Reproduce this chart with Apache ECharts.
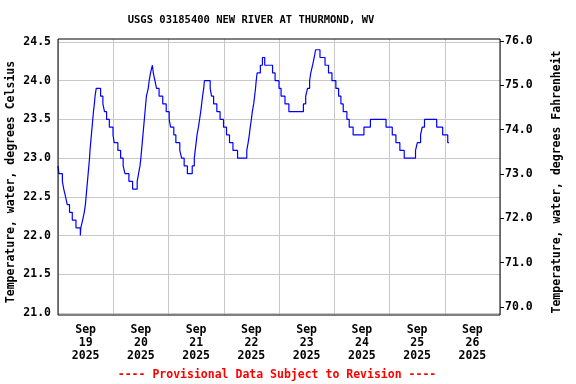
<!DOCTYPE html>
<html>
<head>
<meta charset="utf-8">
<script src="https://cdn.jsdelivr.net/npm/echarts@6/dist/echarts.min.js"></script>
<style>
html,body{margin:0;padding:0;background:#fff;}
#chart{width:576px;height:384px;}
</style>
</head>
<body>
<div id="chart"></div>
<script>
// Hours since Sep 19 2025 00:00 at which each new reading value begins
var hours = [0,0.4,1.9,2.5,3.3,4.0,5.0,6.2,7.8,9.7,9.9,10.7,11.4,11.9,12.2,12.5,12.8,13.1,13.4,13.7,13.9,14.2,14.5,14.8,15.1,15.4,15.8,16.1,16.6,18.5,19.5,20.2,21.1,22.3,23.9,24.4,26.0,27.2,28.3,29.1,30.8,32.4,34.4,35.0,35.6,36.0,36.3,36.6,36.9,37.2,37.5,37.8,38.1,38.4,39.2,39.6,40.2,41.0,41.4,42.1,42.8,43.9,45.5,47.0,48.3,48.9,50.3,51.2,52.9,53.7,54.8,56.2,58.3,59.2,59.6,60.0,60.4,61.0,61.5,62.0,62.4,62.8,63.3,63.6,66.1,66.7,67.6,69.0,70.4,71.9,73.2,74.5,76.0,78.0,82.0,82.6,83.1,83.5,84.0,84.4,85.0,85.4,85.8,86.1,86.5,87.9,88.8,89.8,93.2,94.3,96.0,96.9,98.6,100.3,106.6,107.6,108.4,109.3,109.8,110.6,111.3,111.9,113.8,116.0,117.5,119.0,120.7,121.9,122.9,123.9,125.5,126.5,128.2,132.9,135.7,142.5,145.2,146.8,148.5,150.4,155.3,156.1,157.5,158.2,159.2,164.5,167.1,169.3,169.8];
var tempC = [22.9,22.8,22.7,22.6,22.5,22.4,22.3,22.2,22.1,22.0,22.1,22.2,22.3,22.4,22.5,22.6,22.7,22.8,22.9,23.0,23.1,23.2,23.3,23.4,23.5,23.6,23.7,23.8,23.9,23.8,23.7,23.6,23.5,23.4,23.3,23.2,23.1,23.0,22.9,22.8,22.7,22.6,22.7,22.8,22.9,23.0,23.1,23.2,23.3,23.4,23.5,23.6,23.7,23.8,23.9,24.0,24.1,24.2,24.1,24.0,23.9,23.8,23.7,23.6,23.5,23.4,23.3,23.2,23.1,23.0,22.9,22.8,22.9,23.0,23.1,23.2,23.3,23.4,23.5,23.6,23.7,23.8,23.9,24.0,23.9,23.8,23.7,23.6,23.5,23.4,23.3,23.2,23.1,23.0,23.1,23.2,23.3,23.4,23.5,23.6,23.7,23.8,23.9,24.0,24.1,24.2,24.3,24.2,24.1,24.0,23.9,23.8,23.7,23.6,23.7,23.8,23.9,24.0,24.1,24.2,24.3,24.4,24.3,24.2,24.1,24.0,23.9,23.8,23.7,23.6,23.5,23.4,23.3,23.4,23.5,23.4,23.3,23.2,23.1,23.0,23.1,23.2,23.3,23.4,23.5,23.4,23.3,23.2,23.2];
var dayLabels = ['19','20','21','22','23','24','25','26'];
var monthLabel = 'Sep';
var yearLabel = '2025';
var titleText = 'USGS 03185400 NEW RIVER AT THURMOND, WV';
var leftName = 'Temperature, water, degrees Celsius';
var rightName = 'Temperature, water, degrees Fahrenheit';
var footerText = '---- Provisional Data Subject to Revision ----';

var FONT = 'DejaVu Sans Mono';
var chart = echarts.init(document.getElementById('chart'), null, {renderer:'canvas'});
var seriesData = hours.map(function(h,i){return [h, tempC[i]];});

var option = {
  animation:false,
  backgroundColor:'#fff',
  grid:[
    {left:58, right:76, top:42, bottom:71, show:false},
    {left:58, right:76, top:39, bottom:69, show:true, borderColor:'#000', borderWidth:1, backgroundColor:'transparent', z:5},
    {left:58, right:76, top:41, bottom:77, show:false}
  ],
  xAxis:[
    {gridIndex:0, type:'value', min:0, max:192, show:false},
    {gridIndex:1, type:'value', min:0, max:192, interval:12,
      axisLine:{show:false, onZero:false}, axisTick:{show:false}, splitLine:{show:false},
      axisLabel:{show:true, margin:9, fontFamily:FONT, fontWeight:'bold', fontSize:11.5, lineHeight:13, color:'#000',
        formatter:function(v){ if (v % 24 === 12) { var d = Math.floor(v/24); return monthLabel + '\n' + dayLabels[d] + '\n' + yearLabel; } return ''; }}
    },
    {gridIndex:1, type:'value', min:0, max:192, interval:24,
      axisLine:{show:false, onZero:false}, axisTick:{show:false}, axisLabel:{show:false},
      splitLine:{show:true, lineStyle:{color:'#c8c8c8', width:1}}
    },
    {gridIndex:2, type:'value', min:0, max:192, show:false}
  ],
  yAxis:[
    {gridIndex:0, type:'value', min:21, max:24.5, interval:0.5,
      axisLine:{show:false, onZero:false}, axisTick:{show:false},
      splitLine:{show:true, lineStyle:{color:'#c8c8c8', width:1}},
      axisLabel:{margin:7, padding:[4,0,0,0], fontFamily:FONT, fontWeight:'bold', fontSize:11.5, color:'#000', formatter:function(v){return v.toFixed(1);}}
    },
    {gridIndex:1, type:'value', min:0, max:1, show:false},
    {gridIndex:2, type:'value', position:'right', min:70, max:76, interval:1,
      axisLine:{show:false, onZero:false}, splitLine:{show:false},
      axisTick:{show:true, inside:false, length:4, lineStyle:{color:'#000'}},
      axisLabel:{margin:5, padding:[6,0,0,0], fontFamily:FONT, fontWeight:'bold', fontSize:11.5, color:'#000', formatter:function(v){return v.toFixed(1);}}
    }
  ],
  series:[
    {type:'line', xAxisIndex:0, yAxisIndex:0, data:seriesData, step:'end', showSymbol:false, symbol:'none',
      lineStyle:{color:'#0000ff', width:1.2}, z:3}
  ],
  graphic:[
    {type:'text', x:251, y:20, style:{text:titleText, fontFamily:FONT, fontWeight:'bold', fontSize:10.5, fill:'#000', align:'center', verticalAlign:'middle'}},
    {type:'text', x:11, y:182, rotation:Math.PI/2, style:{text:leftName, fontFamily:FONT, fontWeight:'bold', fontSize:11.5, fill:'#000', align:'center', verticalAlign:'middle'}},
    {type:'text', x:557, y:182, rotation:Math.PI/2, style:{text:rightName, fontFamily:FONT, fontWeight:'bold', fontSize:11.5, fill:'#000', align:'center', verticalAlign:'middle'}},
    {type:'text', x:277, y:375, style:{text:footerText, fontFamily:FONT, fontWeight:'bold', fontSize:11.5, fill:'#ff0000', align:'center', verticalAlign:'middle'}}
  ]
};
chart.setOption(option);
</script>
</body>
</html>
